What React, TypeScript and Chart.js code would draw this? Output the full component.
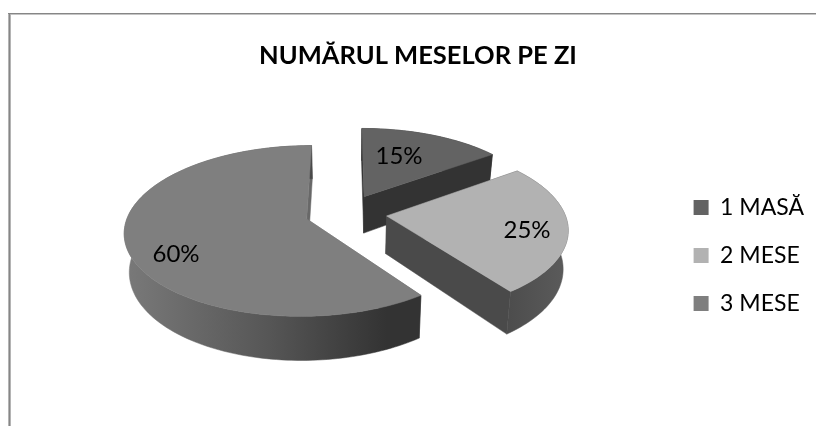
import React, { useEffect, useRef } from "react";
import { Chart, registerables } from "chart.js";

Chart.register(...registerables);

const categories = ["1 MASĂ", "2 MESE", "3 MESE"];
const shares = [15, 25, 60];
const titleText = "NUMĂRUL MESELOR PE ZI";
const topColors = ["#636363", "#b2b2b2", "#7f7f7f"];
const wallColors = ["#333333", "#4a4a4a", "#686868"];
const sideStops = [
  [["0", "#333333"], ["1", "#333333"]],
  [["0", "#4a4a4a"], ["0.6", "#4a4a4a"], ["1", "#5c5c5c"]],
  [["0", "#7a7a7a"], ["0.5", "#565656"], ["0.9", "#333333"], ["1", "#333333"]],
];
const sideSpans = [[364, 490], [390, 570], [122, 416]];
const labelSpots = [[399, 156], [527, 230], [176, 254]];

// view of the pie plane: centre, scale, tilt, perspective, height, explosion
const VIEW = { cx: 346, cy: 213, sx: 178, sy: 82, p: 0.14, depth: 37.5, explode: 0.23, shrink: 0.977 };
const FONT = "Lato, Carlito, sans-serif";

type Pt = [number, number];

function project(u: number, v: number, lower: boolean): Pt {
  const w = 1 - VIEW.p * v;
  const x = VIEW.cx + ((VIEW.sx * u) / w) * (lower ? VIEW.shrink : 1);
  const y = VIEW.cy + (VIEW.sy * v) / w + (lower ? VIEW.depth / w : 0);
  return [x, y];
}

function poly(ctx: CanvasRenderingContext2D, pts: Pt[], fill: string | CanvasGradient) {
  ctx.beginPath();
  pts.forEach((p, i) => (i ? ctx.lineTo(p[0], p[1]) : ctx.moveTo(p[0], p[1])));
  ctx.closePath();
  ctx.fillStyle = fill;
  ctx.strokeStyle = fill;
  ctx.lineWidth = 0.5;
  ctx.fill();
  ctx.stroke();
}

const pie3d = {
  id: "pie3d",
  beforeDatasetsDraw(chart: any) {
    const ctx: CanvasRenderingContext2D = chart.ctx;
    const arcs = chart.getDatasetMeta(0).data;
    const slices = arcs.map((arc: any) => {
      const { startAngle, endAngle } = arc.getProps(["startAngle", "endAngle"], true);
      const mid = (startAngle + endAngle) / 2;
      const ox = Math.cos(mid) * VIEW.explode;
      const oy = Math.sin(mid) * VIEW.explode;
      const rim: Array<[number, number]> = [];
      const n = Math.max(8, Math.ceil((endAngle - startAngle) * 40));
      for (let i = 0; i <= n; i++) {
        const a = startAngle + ((endAngle - startAngle) * i) / n;
        rim.push([ox + Math.cos(a), oy + Math.sin(a)]);
      }
      return { ox, oy, rim };
    });
    ctx.save();
    [0, 2, 1].forEach((i) => {
      const s = slices[i];
      const first = s.rim[0];
      const last = s.rim[s.rim.length - 1];
      const wall = (e: [number, number]) =>
        poly(ctx, [project(s.ox, s.oy, false), project(e[0], e[1], false), project(e[0], e[1], true), project(s.ox, s.oy, true)], wallColors[i]);
      wall(first);
      wall(last);
      const g = ctx.createLinearGradient(sideSpans[i][0], 0, sideSpans[i][1], 0);
      sideStops[i].forEach((st) => g.addColorStop(Number(st[0]), st[1]));
      const upper = s.rim.map((r: [number, number]) => project(r[0], r[1], false));
      const lower = s.rim.map((r: [number, number]) => project(r[0], r[1], true)).reverse();
      poly(ctx, upper.concat(lower), g);
      poly(ctx, [project(s.ox, s.oy, false), ...upper], topColors[i]);
    });
    ctx.fillStyle = "#000000";
    ctx.font = `24px ${FONT}`;
    ctx.textAlign = "center";
    ctx.textBaseline = "middle";
    shares.forEach((v, i) => ctx.fillText(`${v}%`, labelSpots[i][0], labelSpots[i][1]));
    ctx.restore();
    return false;
  },
};

const frame = {
  id: "frame",
  beforeDraw(chart: any) {
    const ctx: CanvasRenderingContext2D = chart.ctx;
    const { width, height } = chart;
    ctx.save();
    ctx.fillStyle = "#c4c4c4";
    ctx.fillRect(8, 14, width - 8, 1);
    ctx.fillStyle = "#b4b4b4";
    ctx.fillRect(8, 13, 1, height - 13);
    ctx.fillRect(10, 14, 1, height - 14);
    ctx.fillStyle = "#868686";
    ctx.fillRect(8, 13, width - 8, 1);
    ctx.fillRect(9, 13, 1, height - 13);
    ctx.restore();
  },
};

export default function App() {
  const ref = useRef<HTMLCanvasElement | null>(null);
  useEffect(() => {
    const chart = new Chart(ref.current as HTMLCanvasElement, {
      type: "pie",
      data: {
        labels: categories,
        datasets: [{ data: shares, backgroundColor: topColors, borderWidth: 0 }],
      },
      options: {
        responsive: false,
        animation: false,
        layout: { padding: { left: 22, top: 38, right: 2, bottom: 86 } },
        plugins: {
          title: {
            display: true,
            text: titleText,
            color: "#000000",
            font: { family: FONT, size: 25.5, weight: "bold" },
            padding: { top: 2, bottom: 10 },
          },
          legend: {
            position: "right",
            align: "end",
            labels: {
              boxWidth: 15,
              boxHeight: 15,
              padding: 25,
              color: "#000000",
              font: { family: FONT, size: 23 },
            },
          },
          tooltip: { enabled: false },
        },
      },
      plugins: [frame, pie3d],
    } as any);
    return () => chart.destroy();
  }, []);
  return (
    <div style={{ position: "fixed", left: 0, top: 0, width: 816, height: 426, background: "#fff" }}>
      <canvas ref={ref} width={816} height={426} style={{ display: "block" }} />
    </div>
  );
}
